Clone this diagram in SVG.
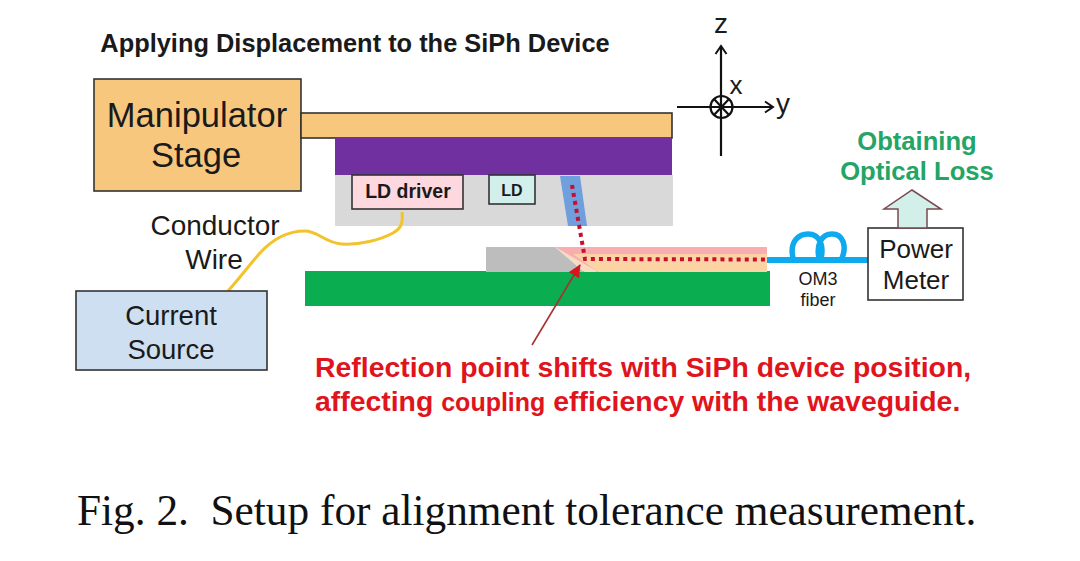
<svg xmlns="http://www.w3.org/2000/svg" width="1080" height="561" viewBox="0 0 1080 561">
<style>
text{font-family:"Liberation Sans",Arial,sans-serif;text-anchor:middle;fill:#1a1a1a}
.b{font-weight:bold}
.red{fill:#e0141c;font-weight:bold;font-size:28.400px;text-anchor:start}
.grn{fill:#22a565;font-weight:bold;font-size:25.600px}
.ax{stroke:#111;stroke-width:2.2;fill:none}
.box{stroke:#333;stroke-width:1.6}
</style>
<defs>
<marker id="open" markerWidth="14" markerHeight="14" refX="11" refY="7" orient="auto" markerUnits="userSpaceOnUse"><path d="M3 1.5L11 7L3 12.5" fill="none" stroke="#111" stroke-width="2"/></marker>
<marker id="tri" markerWidth="14" markerHeight="12" refX="12" refY="6" orient="auto" markerUnits="userSpaceOnUse"><path d="M0 0L13 6L0 12Z" fill="#d8141c"/></marker>
</defs>
<rect width="1080" height="561" fill="#fff"/>
<text class="b" x="355" y="52" font-size="25.400">Applying Displacement to the SiPh Device</text>
<g id="stage"><rect class="box" x="94" y="79" width="207" height="112" fill="#f8c77e"/>
<rect class="box" x="301" y="113" width="371" height="25" fill="#f8c77e"/>
<text x="197" y="127" font-size="34.500">Manipulator</text><text x="196" y="167" font-size="34.500">Stage</text></g>
<g id="holder"><rect x="335" y="138" width="337" height="37" fill="#7030a0"/></g>
<g id="siph"><rect x="335" y="175" width="338" height="51" fill="#d9d9d9"/>
<path d="M560 176H580L587 226H568Z" fill="#6f9fdc"/></g>
<g id="ld-driver"><rect class="box" x="352" y="175" width="111" height="34" fill="#fdd8de"/><text class="b" x="408" y="198" font-size="19.500">LD driver</text></g>
<g id="ld"><rect class="box" x="489" y="175" width="46" height="29" fill="#d3efec"/><text class="b" x="512" y="196" font-size="16">LD</text></g>
<g id="substrate"><rect x="305" y="271" width="465" height="35" fill="#0aad50"/></g>
<g id="waveguide"><path d="M555 247L584 272H598Z" fill="#f7dcc0"/><path d="M555 247H767V272H598Z" fill="#f8adb0"/>
<path d="M573 254H767V272H598Z" fill="#fbd3a5"/>
<path d="M555 247L584 272H486V247Z" fill="#bdbdbd"/></g>
<g id="connectors">
<path d="M572 185L585 259L767 259.500" fill="none" stroke="#c8102e" stroke-width="4" stroke-dasharray="4 4.100"/>
<path d="M532 345L580 265" stroke="#a8322e" stroke-width="1.6" marker-end="url(#tri)"/>
<path d="M228 291C240 278 250 264 260 253C270 242 285 231 305 231C318 231 325 243 342 244C360 245 380 240 393 233C402 228 403 222 402 212" fill="none" stroke="#f2c32c" stroke-width="3"/>
<path d="M767 260H868" stroke="#0fa9ee" stroke-width="6"/>
<path d="M793 258C789 240 800 234 808 234C820 234 824 246 821 258M819 258C816 244 822 234 832 234C843 234 847 246 842 258" fill="none" stroke="#0fa9ee" stroke-width="5.500"/>
</g>
<g id="axes"><path class="ax" d="M721 156V46" marker-end="url(#open)"/><path class="ax" d="M677 107H773" marker-end="url(#open)"/>
<circle class="ax" cx="721.500" cy="107" r="11" fill="#fff"/><path class="ax" d="M714 99L729 115M729 99L714 115"/>
<text x="721" y="33" font-size="28">z</text><text x="736" y="94" font-size="26">x</text><text x="783" y="113" font-size="28">y</text></g>
<g id="power-meter"><rect class="box" x="868" y="228" width="95" height="72" fill="#fff"/><text x="916" y="258" font-size="26">Power</text><text x="916" y="289" font-size="26">Meter</text></g>
<path id="up-arrow" d="M898 228V209H884L912 190L941 209H927V228Z" fill="#d3efe9" stroke="#7a4a50" stroke-width="1.500"/>
<text class="grn" x="917" y="150">Obtaining</text><text class="grn" x="917" y="180">Optical Loss</text>
<g id="current-source"><rect class="box" x="76" y="291" width="191" height="79" fill="#cddff1"/><text x="171" y="325" font-size="27.500">Current</text><text x="171" y="359" font-size="27.500">Source</text></g>
<text x="215" y="235" font-size="28">Conductor</text><text x="214" y="269" font-size="28">Wire</text>
<text x="818" y="285" font-size="18" fill="#333">OM3</text><text x="818" y="306" font-size="18">fiber</text>
<text class="red" x="315" y="377">Reflection point shifts with SiPh device position,</text>
<text class="red" x="315" y="411">affecting <tspan font-size="25">coupling</tspan> efficiency with the waveguide.</text>
<text x="77" y="525" xml:space="preserve" style="font-family:'Liberation Serif','Times New Roman',serif;text-anchor:start;fill:#111" font-size="43.300">Fig. 2.  Setup for alignment tolerance measurement.</text>
</svg>
